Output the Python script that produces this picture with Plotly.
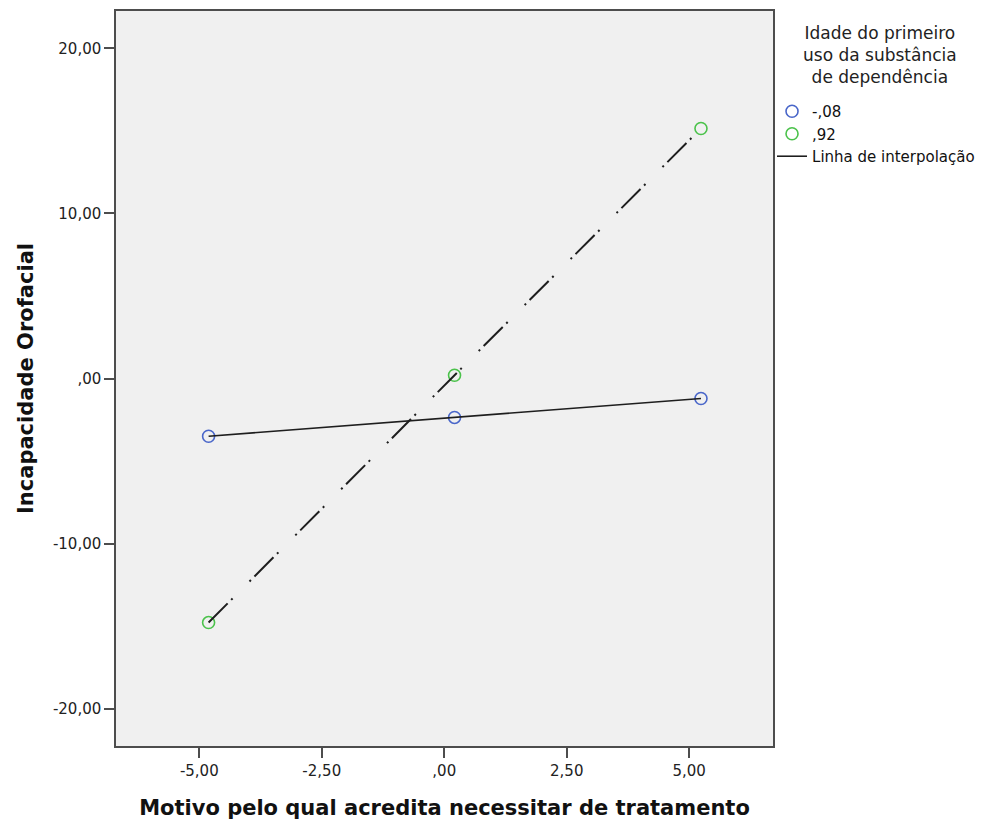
import plotly.graph_objects as go

# Data
x_vals = [-4.81, 0.21, 5.24]
y_low = [-3.50, -2.36, -1.21]      # group "-,08"
y_high = [-14.79, 0.20, 15.15]     # group ",92"
group_names = ["-,08", ",92"]
line_name = "Linha de interpolação"
legend_title = "Idade do primeiro<br>uso da substância<br>de dependência"
x_title = "Motivo pelo qual acredita necessitar de tratamento"
y_title = "Incapacidade Orofacial"
x_tickvals = [-5, -2.5, 0, 2.5, 5]
x_ticktext = ["-5,00", "-2,50", ",00", "2,50", "5,00"]
y_tickvals = [-20, -10, 0, 10, 20]
y_ticktext = ["-20,00", "-10,00", ",00", "10,00", "20,00"]

BLUE = "#4966C9"
GREEN = "#4BC24B"
LINE = "#1e1e1e"
FONT = "DejaVu Sans"

fig = go.Figure()

# markers
fig.add_trace(go.Scatter(x=x_vals, y=y_low, mode="markers", name=group_names[0],
                         marker=dict(symbol="circle-open", size=12, color=BLUE,
                                     line=dict(width=1.6, color=BLUE)),
                         legendrank=1))
fig.add_trace(go.Scatter(x=x_vals, y=y_high, mode="markers", name=group_names[1],
                         marker=dict(symbol="circle-open", size=12, color=GREEN,
                                     line=dict(width=1.6, color=GREEN)),
                         legendrank=2))
# interpolation lines
fig.add_trace(go.Scatter(x=x_vals, y=y_low, mode="lines", name=line_name,
                         line=dict(color=LINE, width=1.6), legendrank=3))
fig.add_trace(go.Scatter(x=x_vals, y=y_high, mode="lines", showlegend=False,
                         line=dict(color=LINE, width=2,
                                   dash="27px,5px,2px,24px,2px,5px")))

axis_common = dict(showgrid=False, zeroline=False, showline=True, mirror=True,
                   linecolor="#4d4d4d", linewidth=1.5, ticks="outside",
                   ticklen=10, tickwidth=1.5, tickcolor="#4d4d4d",
                   tickfont=dict(family=FONT, size=15, color="#222222"))

fig.update_layout(
    width=988, height=823,
    margin=dict(l=116, r=215, t=11, b=77, autoexpand=False),
    paper_bgcolor="white", plot_bgcolor="#F0F0F0",
    font=dict(family=FONT, color="#111111"),
    xaxis=dict(range=[-6.7, 6.71], tickvals=x_tickvals, ticktext=x_ticktext,
               title=dict(text=x_title, standoff=22,
                          font=dict(family=FONT, size=21, color="#111111", weight="bold")),
               automargin=False, **axis_common),
    yaxis=dict(range=[-22.27, 22.27], tickvals=y_tickvals, ticktext=y_ticktext,
               title=dict(text=y_title, standoff=14,
                          font=dict(family=FONT, size=21, color="#111111", weight="bold")),
               automargin=False, **axis_common),
    legend=dict(xref="container", yref="container", x=0.7814, xanchor="left",
                y=0.8846, yanchor="top",
                bgcolor="rgba(0,0,0,0)", borderwidth=0, itemwidth=30,
                font=dict(family=FONT, size=15, color="#111111"),
                tracegroupgap=0),
    annotations=[dict(text=legend_title, xref="paper", yref="paper",
                      x=1.1629, y=0.9405, xanchor="center", yanchor="middle",
                      showarrow=False, align="center",
                      font=dict(family=FONT, size=17, color="#222222"))],
)

fig.write_html("out.html", config={"displayModeBar": False},
               post_script="document.body.style.margin='0';document.body.style.overflow='hidden';")
